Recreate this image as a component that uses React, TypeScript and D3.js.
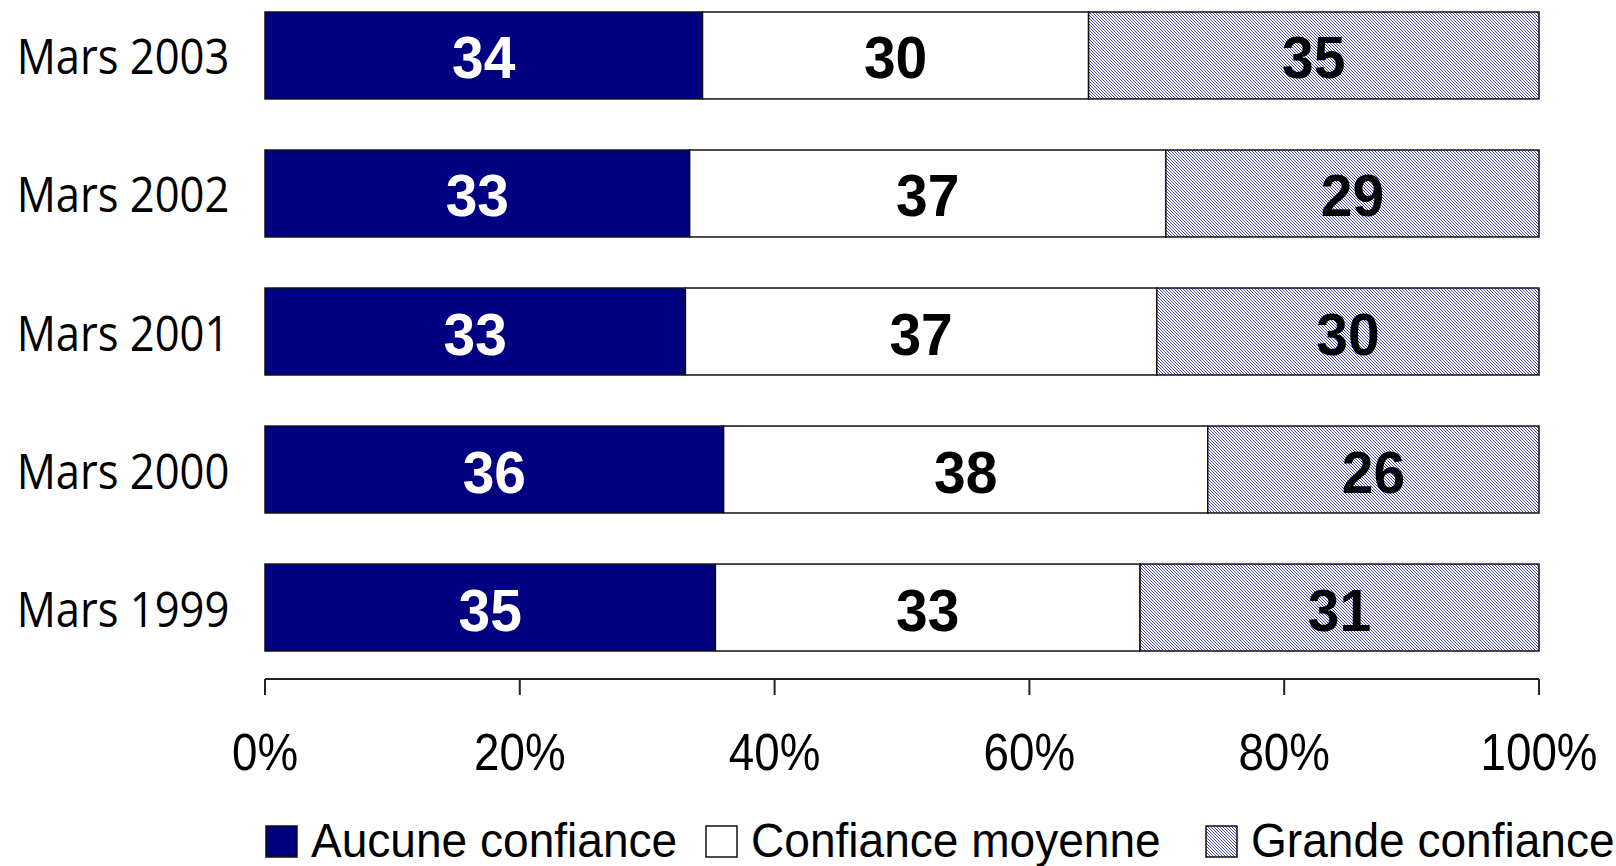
// ConfianceChart.tsx

import React, { useEffect, useRef } from 'react';
import * as d3 from 'd3';

const periods = ['Mars 2003', 'Mars 2002', 'Mars 2001', 'Mars 2000', 'Mars 1999'];
const seriesNames = ['Aucune confiance', 'Confiance moyenne', 'Grande confiance'];
const aucune = [34, 33, 33, 36, 35];
const moyenne = [30, 37, 37, 38, 33];
const grande = [35, 29, 30, 26, 31];
const tickValues = [0, 0.2, 0.4, 0.6, 0.8, 1];

const WIDTH = 1616;
const HEIGHT = 866;
const SQUEEZE = 0.88; // the reference text is a bit narrow

const App = () => {
  const svgRef = useRef<SVGSVGElement>(null);

  useEffect(() => {
    const svg = d3.select(svgRef.current);
    svg.selectAll('*').remove();

    const rows = periods.map((p, i) => ({
      period: p,
      values: [aucune[i], moyenne[i], grande[i]],
    }));

    const x = d3.scaleLinear().domain([0, 1]).range([265, 1539]);
    const y = d3
      .scaleBand()
      .domain(periods)
      .range([12, 651])
      .paddingInner(0.37)
      .paddingOuter(0);

    // fine hatch for "Grande confiance"
    const pattern = svg
      .append('defs')
      .append('pattern')
      .attr('id', 'hatch')
      .attr('patternUnits', 'userSpaceOnUse')
      .attr('width', 3)
      .attr('height', 3);
    pattern.append('rect').attr('width', 3).attr('height', 3).attr('fill', '#fff');
    d3.range(3).forEach((k) => {
      pattern
        .append('rect')
        .attr('x', k)
        .attr('y', k)
        .attr('width', 1)
        .attr('height', 1)
        .attr('fill', '#4a4abb');
    });

    const fills = ['#000080', '#ffffff', 'url(#hatch)'];
    const textColors = ['#ffffff', '#000000', '#000000'];

    const squeezedText = (parent, tx, ty, str, opts) => {
      const t = parent
        .append('g')
        .attr('transform', `translate(${tx},${ty}) scale(${opts.sx ?? SQUEEZE},1)`)
        .append('text')
        .attr('x', 0)
        .attr('y', 0)
        .attr('text-anchor', opts.anchor ?? 'middle')
        .style('font-family', opts.family ?? '"Liberation Sans", Arial, sans-serif')
        .style('font-size', `${opts.size}px`)
        .style('font-weight', opts.weight ?? 'normal')
        .attr('fill', opts.fill ?? '#000')
        .text(str);
      return t;
    };

    // bars
    rows.forEach((row) => {
      const total = d3.sum(row.values);
      let acc = 0;
      const by = y(row.period);
      const bh = y.bandwidth();
      row.values.forEach((v, j) => {
        const x0 = x(acc / total);
        const x1 = x((acc + v) / total);
        svg
          .append('rect')
          .attr('x', x0)
          .attr('y', by)
          .attr('width', x1 - x0)
          .attr('height', bh)
          .attr('fill', fills[j])
          .attr('stroke', '#111')
          .attr('stroke-width', 1.5);
        squeezedText(svg, (x0 + x1) / 2, by + bh / 2 + 23, String(v), {
          size: 60,
          weight: 'bold',
          fill: textColors[j],
          sx: 0.95,
        });
        acc += v;
      });

      // category label
      squeezedText(svg, 123, by + bh / 2 + 19, row.period, {
        size: 50,
        family: '"Open Sans", sans-serif',
        sx: 0.87,
      });
    });

    // x axis
    const axisY = 679;
    svg
      .append('line')
      .attr('x1', x(0))
      .attr('x2', x(1))
      .attr('y1', axisY)
      .attr('y2', axisY)
      .attr('stroke', '#222')
      .attr('stroke-width', 2);
    tickValues.forEach((t) => {
      svg
        .append('line')
        .attr('x1', x(t))
        .attr('x2', x(t))
        .attr('y1', axisY)
        .attr('y2', axisY + 16)
        .attr('stroke', '#222')
        .attr('stroke-width', 2);
      squeezedText(svg, x(t), 770, d3.format('.0%')(t), { size: 52 });
    });

    // legend
    const legendX = [266, 706, 1206];
    seriesNames.forEach((name, j) => {
      svg
        .append('rect')
        .attr('x', legendX[j])
        .attr('y', 826)
        .attr('width', 31)
        .attr('height', 31)
        .attr('fill', fills[j])
        .attr('stroke', '#111')
        .attr('stroke-width', 1.5);
      squeezedText(svg, legendX[j] + 45, 857, name, {
        size: 48,
        anchor: 'start',
        sx: 0.96,
      });
    });
  }, []);

  return (
    <svg
      ref={svgRef}
      width={WIDTH}
      height={HEIGHT}
      style={{ position: 'absolute', left: 0, top: 0, background: '#fff' }}
    ></svg>
  );
};

export default App;
